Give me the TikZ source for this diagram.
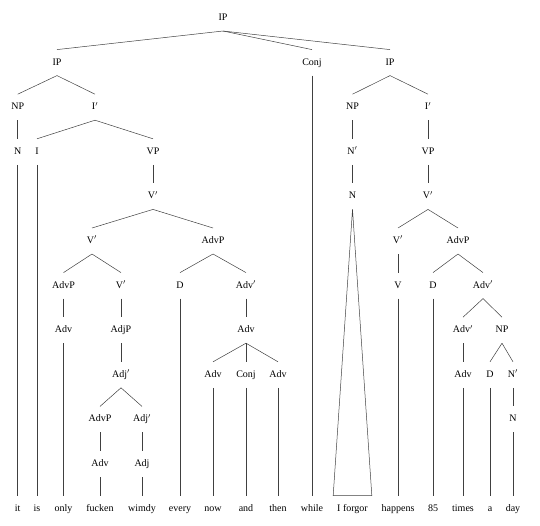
\documentclass[tikz,border=0pt]{standalone}
\usepackage{fontspec}
\setmainfont{Liberation Serif}
\begin{document}
\begin{tikzpicture}[x=1pt,y=-1pt,font=\fontsize{10}{12}\selectfont,
  lab/.style={inner xsep=1pt,inner ysep=8.5pt,text height=7pt,text depth=2pt,outer sep=0pt},
  br/.style={draw=black!75,line width=0.5pt}]
\useasboundingbox (0,0) rectangle (540,525);
% level 1
\node[lab] (ip) at (223,18) {IP};
% level 2
\node[lab] (ipA) at (57,62.6) {IP};
\node[lab] (conj) at (312,62.6) {Conj};
\node[lab] (ipB) at (390,62.6) {IP};
% level 3
\node[lab] (npA) at (17.7,107.2) {NP};
\node[lab] (ibarA) at (95,107.2) {I$'$};
\node[lab] (npB) at (352.5,107.2) {NP};
\node[lab] (ibarB) at (428,107.2) {I$'$};
% level 4
\node[lab] (nA) at (17.7,151.8) {N};
\node[lab] (iA) at (37,151.8) {I};
\node[lab] (vpA) at (153,151.8) {VP};
\node[lab] (nbarB) at (352.5,151.8) {N$'$};
\node[lab] (vpB) at (428,151.8) {VP};
% level 5
\node[lab] (vbA) at (153,196.4) {V$'$};
\node[lab] (nB) at (352.5,196.4) {N};
\node[lab] (vbB) at (428,196.4) {V$'$};
% level 6
\node[lab] (vbA2) at (92,241) {V$'$};
\node[lab] (advpA) at (213,241) {AdvP};
\node[lab] (vbB2) at (398,241) {V$'$};
\node[lab] (advpB) at (458,241) {AdvP};
% level 7
\node[lab] (advpA2) at (63.5,285.6) {AdvP};
\node[lab] (vbA3) at (121,285.6) {V$'$};
\node[lab] (dA) at (180,285.6) {D};
\node[lab] (advbA) at (246,285.6) {Adv$'$};
\node[lab] (vB) at (398,285.6) {V};
\node[lab] (dB) at (433,285.6) {D};
\node[lab] (advbB) at (483,285.6) {Adv$'$};
% level 8
\node[lab] (advA) at (63.5,330.2) {Adv};
\node[lab] (adjpA) at (121,330.2) {AdjP};
\node[lab] (advA2) at (246,330.2) {Adv};
\node[lab] (advbB2) at (463,330.2) {Adv$'$};
\node[lab] (npC) at (502,330.2) {NP};
% level 9
\node[lab] (adjbA) at (121,374.8) {Adj$'$};
\node[lab] (advA3) at (213,374.8) {Adv};
\node[lab] (conjA) at (246,374.8) {Conj};
\node[lab] (advA4) at (278,374.8) {Adv};
\node[lab] (advB) at (463,374.8) {Adv};
\node[lab] (dC) at (490,374.8) {D};
\node[lab] (nbarC) at (513,374.8) {N$'$};
% level 10
\node[lab] (advpA3) at (100,419.4) {AdvP};
\node[lab] (adjbA2) at (142,419.4) {Adj$'$};
\node[lab] (nC) at (513,419.4) {N};
% level 11
\node[lab] (advA5) at (100,464) {Adv};
\node[lab] (adjA) at (142,464) {Adj};
% words
\node[lab] (wit) at (17.7,508.6) {it};
\node[lab] (wis) at (37,508.6) {is};
\node[lab] (wonly) at (63.5,508.6) {only};
\node[lab] (wfucken) at (100,508.6) {fucken};
\node[lab] (wwimdy) at (142,508.6) {wimdy};
\node[lab] (wevery) at (180,508.6) {every};
\node[lab] (wnow) at (213,508.6) {now};
\node[lab] (wand) at (246,508.6) {and};
\node[lab] (wthen) at (278,508.6) {then};
\node[lab] (wwhile) at (312,508.6) {while};
\node[lab] (wforgor) at (352.5,508.6) {I forgor};
\node[lab] (whappens) at (398,508.6) {happens};
\node[lab] (w85) at (433,508.6) {85};
\node[lab] (wtimes) at (463,508.6) {times};
\node[lab] (wa) at (490,508.6) {a};
\node[lab] (wday) at (513,508.6) {day};
% branches
\foreach \p/\c in {ip/ipA,ip/conj,ip/ipB,
  ipA/npA,ipA/ibarA,npA/nA,ibarA/iA,ibarA/vpA,vpA/vbA,
  vbA/vbA2,vbA/advpA,vbA2/advpA2,vbA2/vbA3,advpA2/advA,vbA3/adjpA,adjpA/adjbA,
  adjbA/advpA3,adjbA/adjbA2,advpA3/advA5,adjbA2/adjA,
  advpA/dA,advpA/advbA,advbA/advA2,advA2/advA3,advA2/conjA,advA2/advA4,
  ipB/npB,ipB/ibarB,npB/nbarB,nbarB/nB,ibarB/vpB,vpB/vbB,
  vbB/vbB2,vbB/advpB,vbB2/vB,advpB/dB,advpB/advbB,advbB/advbB2,advbB/npC,
  advbB2/advB,npC/dC,npC/nbarC,nbarC/nC,
  nA/wit,iA/wis,advA/wonly,advA5/wfucken,adjA/wwimdy,dA/wevery,
  advA3/wnow,conjA/wand,advA4/wthen,conj/wwhile,vB/whappens,dB/w85,
  advB/wtimes,dC/wa,nC/wday}
  \draw[br] (\p.south) -- (\c.north);
\draw[br] (nB.south) -- ([xshift=-3pt]wforgor.north west) -- ([xshift=3pt]wforgor.north east) -- cycle;
\end{tikzpicture}
\end{document}
